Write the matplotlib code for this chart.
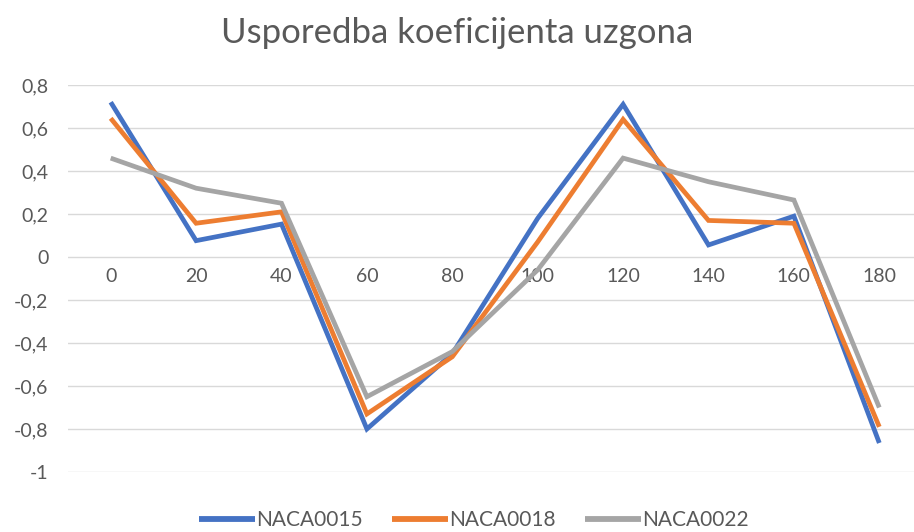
import matplotlib
matplotlib.use("Agg")
import matplotlib.pyplot as plt
from matplotlib.ticker import FuncFormatter

plt.rcParams["font.family"] = ["Lato", "DejaVu Sans"]

# angles (deg) and lift coefficients
angles = [0, 20, 40, 60, 80, 100, 120, 140, 160, 180]
naca0015 = [0.72, 0.076, 0.153, -0.80, -0.45, 0.18, 0.71, 0.056, 0.19, -0.865]
naca0018 = [0.645, 0.157, 0.21, -0.73, -0.464, 0.07, 0.64, 0.17, 0.157, -0.79]
naca0022 = [0.46, 0.32, 0.25, -0.65, -0.44, -0.06, 0.46, 0.35, 0.265, -0.70]

series = {
    "NACA0015": (naca0015, "#4472C4"),
    "NACA0018": (naca0018, "#ED7D31"),
    "NACA0022": (naca0022, "#A5A5A5"),
}
y_ticks = [0.8, 0.6, 0.4, 0.2, 0, -0.2, -0.4, -0.6, -0.8, -1]

text_col = "#595959"
grid_col = "#D9D9D9"

fig = plt.figure(figsize=(9.14, 5.32), dpi=100)
ax = fig.add_axes([68 / 914, 1 - 472 / 532, (922 - 68) / 914, (472 - 85) / 532])

pos = list(range(len(angles)))
for name, (vals, col) in series.items():
    ax.plot(pos, vals, color=col, lw=3.4, label=name, solid_joinstyle="miter",
            solid_capstyle="butt")

ax.set_xlim(-0.5, len(angles) - 0.5)
ax.set_ylim(-1, 0.8)
ax.set_yticks(y_ticks)
ax.yaxis.set_major_formatter(FuncFormatter(lambda v, p: f"{v:g}".replace(".", ",")))
ax.set_xticks(pos)
ax.set_xticklabels([str(a) for a in angles])

ax.grid(axis="y", color=grid_col, lw=1)
ax.set_axisbelow(True)
for s in ax.spines.values():
    s.set_visible(False)
ax.spines["bottom"].set_position(("data", 0))

ax.tick_params(axis="y", length=0, pad=14, labelsize=14, labelcolor=text_col)
ax.tick_params(axis="x", length=0, pad=8, labelsize=14, labelcolor=text_col)

fig.text(0.5, 1 - 33 / 532, "Usporedba koeficijenta uzgona", ha="center", va="center",
         fontsize=25, color=text_col)

leg = fig.legend(loc="center", bbox_to_anchor=(474 / 914, 1 - 520 / 532), ncol=3,
                 frameon=False, fontsize=15, labelcolor=text_col, handlelength=2.7,
                 handletextpad=0.05, columnspacing=1.4)
for h in leg.get_lines():
    h.set_linewidth(4.2)

fig.savefig("out.png", dpi=100, facecolor="white")
